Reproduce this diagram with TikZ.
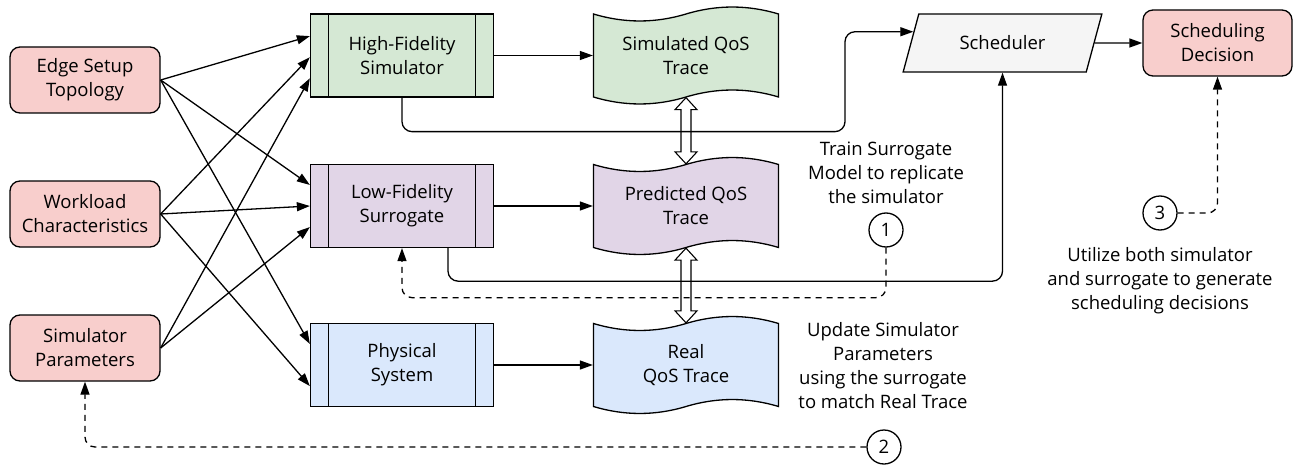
\documentclass[tikz,border=0pt]{standalone}
\usepackage{fontspec}
\setmainfont{Open Sans}
\usetikzlibrary{arrows.meta,shapes.geometric,calc}
\definecolor{inpink}{HTML}{F8CECC}
\definecolor{hfgreen}{HTML}{D5E8D4}
\definecolor{lfpurple}{HTML}{E1D5E7}
\definecolor{psblue}{HTML}{DAE8FC}
\definecolor{schedgray}{HTML}{F5F5F5}
\tikzset{pics/qostape/.style={code={
  \draw[fill=#1] (-92.5,41.5) .. controls +(30.8,-9.3) and +(-30.8,-9.3) .. (0,41.5)
    .. controls +(30.8,9.3) and +(-30.8,9.3) .. (92.5,41.5) -- (92.5,-41.5)
    .. controls +(-30.8,9.3) and +(30.8,9.3) .. (0,-41.5)
    .. controls +(-30.8,-9.3) and +(30.8,-9.3) .. (-92.5,-41.5) -- cycle;}}}
\begin{document}
\begin{tikzpicture}[x=1pt,y=1pt,line width=1.3pt,
  font=\fontsize{18.5}{24}\selectfont,
  >={Triangle[length=13pt,width=9pt]},
  inbox/.style={draw,fill=inpink,rounded corners=10pt,minimum width=150pt,minimum height=66pt,align=center},
  procbox/.style={draw,fill=#1,minimum width=183pt,minimum height=83pt,align=center,
    path picture={\draw ([xshift=18pt]path picture bounding box.north west) -- ([xshift=18pt]path picture bounding box.south west)
      ([xshift=-18pt]path picture bounding box.north east) -- ([xshift=-18pt]path picture bounding box.south east);}},
  tracebox/.style={minimum width=185pt,minimum height=83pt,align=center},
  stepnum/.style={draw,circle,minimum size=34pt,inner sep=0pt},
  feedback/.style={->,dash pattern=on 6pt off 5pt,rounded corners=10pt}]
  \useasboundingbox (0,0) rectangle (1306,-468);

  % inputs
  \node[inbox] (edge) at (85,-80) {Edge Setup\\Topology};
  \node[inbox] (work) at (85,-214) {Workload\\Characteristics};
  \node[inbox] (simp) at (85,-348) {Simulator\\Parameters};

  % models
  \node[procbox=hfgreen] (hf) at (402,-55.5) {High-Fidelity\\Simulator};
  \node[procbox=lfpurple] (lf) at (402,-206) {Low-Fidelity\\Surrogate};
  \node[procbox=psblue] (ps) at (402,-365) {Physical\\System};

  % traces: tape outline first, text node on top
  \pic at (686,-55.5) {qostape=hfgreen};
  \pic at (686,-206) {qostape=lfpurple};
  \pic at (686,-365) {qostape=psblue};
  \node[tracebox] (simtr) at (686,-55.5) {Simulated QoS\\Trace};
  \node[tracebox] (predtr) at (686,-206) {Predicted QoS\\Trace};
  \node[tracebox] (realtr) at (686,-365) {Real\\QoS Trace};

  \node[draw,fill=schedgray,trapezium,trapezium left angle=67.5,trapezium right angle=112.5,
    trapezium stretches=true,minimum width=199pt,minimum height=58pt] (sched) at (1002.5,-43) {Scheduler};
  \node[inbox,minimum width=149pt] (dec) at (1217.5,-43) {Scheduling\\Decision};
  \coordinate (schin) at ($(sched.bottom left corner)!0.69!(sched.top left corner)$);

  \node[stepnum] (one) at (886,-230) {1};
  \node[stepnum] (two) at (884,-447) {2};
  \node[stepnum] (three) at (1160,-213) {3};

  \node[align=center] (trainnote) at (886,-173) {Train Surrogate\\Model to replicate\\the simulator};
  \node[align=center] (updnote) at (883,-366) {Update Simulator\\Parameters\\using the surrogate\\to match Real Trace};
  \node[align=center] (usenote) at (1160,-281) {Utilize both simulator\\and surrogate to generate\\scheduling decisions};

  % every input feeds the models
  \foreach \src/\dst/\f in {edge/hf/0.27,edge/lf/0.25,edge/ps/0.25,work/hf/0.52,work/lf/0.5,
      work/ps/0.75,simp/hf/0.77,simp/lf/0.75}
    \draw[->] (\src.east) -- ($(\dst.north west)!\f!(\dst.south west)$);

  \draw[->] (hf) -- (simtr);
  \draw[->] (lf) -- (predtr);
  \draw[->] (ps) -- (realtr);

  % hollow two-way arrows between traces
  \foreach \a/\b in {simtr/predtr,predtr/realtr}
    \draw[line width=1.1pt,fill=white] (\a.south) -- ++(11,-12) -- ++(-6,0) -- ($(\b.north)+(5,12)$)
      -- ++(6,0) -- (\b.north) -- ++(-11,12) -- ++(6,0) -- ($(\a.south)+(-5,-12)$) -- ++(-6,0) -- cycle;

  \draw[->,rounded corners=10pt] (hf.south) -- ++(0,-34) -- ++(443,0) |- (schin);
  \draw[->,rounded corners=10pt] ([xshift=46pt]lf.south) -- ++(0,-33) -| (sched.south);
  \draw[->] (sched.east) -- (dec.west);

  \draw[feedback] (one.south) -- ++(0,-50) -| (lf.south);
  \draw[feedback] (two.west) -| (simp.south);
  \draw[feedback] (three.east) -| (dec.south);
\end{tikzpicture}
\end{document}
